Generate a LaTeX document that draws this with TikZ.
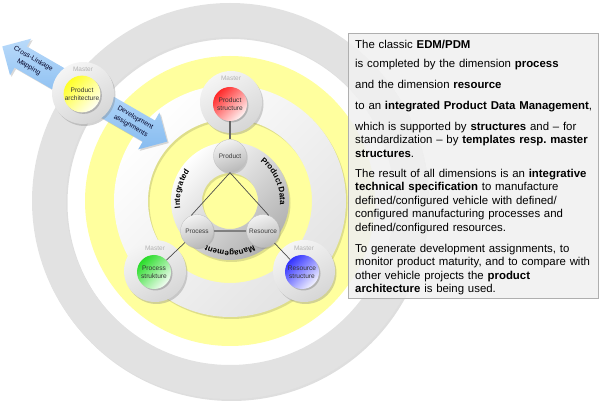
\documentclass[tikz,border=0pt]{standalone}
\usepackage{fontspec}
\setmainfont{Liberation Sans}
\usetikzlibrary{shadows,shapes.arrows,decorations.text,calc}
\definecolor{ringgray}{RGB}{226,226,226}
\definecolor{ringyellow}{RGB}{255,255,158}
\definecolor{arrowblue}{RGB}{135,188,240}
\definecolor{arrowlight}{RGB}{185,218,250}
\definecolor{boxfill}{RGB}{240,240,240}
\definecolor{boxline}{RGB}{175,175,175}
\definecolor{mastergray}{RGB}{178,178,178}
\definecolor{nodetext}{RGB}{60,60,60}
\definecolor{mred}{RGB}{255,40,40}
\definecolor{mgreen}{RGB}{40,220,40}
\definecolor{mblue}{RGB}{50,50,255}
\definecolor{myellow}{RGB}{255,255,40}
\newcommand\ringfont{\fontsize{8}{8}\selectfont\bfseries}
\tikzset{
  ringshadow/.style={fill=black, opacity=.13, even odd rule},
  ball/.style={circle, minimum size=33pt, inner sep=0pt, top color=gray!10, bottom color=gray!55, shading angle=20, draw=gray!50, line width=.3pt, font=\fontsize{6.5}{7}\selectfont, text=nodetext, drop shadow={opacity=.3, shadow xshift=1.2pt, shadow yshift=-1.5pt}},
  masterout/.style={circle, minimum size=62pt, inner sep=0pt, top color=gray!8, bottom color=gray!32, shading angle=30, drop shadow={opacity=.35, shadow xshift=1.5pt, shadow yshift=-2pt}},
  masterin/.style={circle, minimum size=34pt, inner sep=0pt, align=center, top color=#1, bottom color=#1!6!white, shading angle=45, font=\fontsize{6.6}{8.2}\selectfont, text=black!80, drop shadow={opacity=.45, shadow xshift=1.5pt, shadow yshift=-1.5pt}},
  masterlbl/.style={inner sep=0pt, font=\fontsize{6.5}{7}\selectfont, text=mastergray},
  blockarrow/.style={single arrow, single arrow head extend=9pt, single arrow tip angle=90, inner xsep=0pt, inner ysep=12pt, anchor=tail, top color=arrowlight, bottom color=arrowblue, drop shadow={opacity=.3, shadow xshift=1.5pt, shadow yshift=-1.5pt}},
  arrowtext/.style={inner sep=0pt, align=center, font=\fontsize{6.8}{9.3}\selectfont, text=black!85!blue},
  para/.style={anchor=base west, inner sep=0pt, text width=245pt, align=left, font=\fontsize{11.4}{13.4}\selectfont},
  ringtext/.style={decorate, decoration={text along path, text align=center, text={|\ringfont|#1}}},
  conn/.style={draw=black!60, line width=1.2pt},
  thinconn/.style={draw=black!70, line width=.7pt},
  thickconn/.style={draw=black!50, line width=2.2pt},
}
\begin{document}
\begin{tikzpicture}[x=1pt,y=1pt]
\useasboundingbox (0,0) rectangle (600,407);
\coordinate (C) at (230,206);
% rings
\fill[ringshadow] ($(C)+(1.5,-2)$) circle[radius=198] circle[radius=164];
\fill[ringgray, even odd rule] (C) circle[radius=198] circle[radius=164];
\fill[ringyellow] (C) circle[radius=145];
\fill[ringshadow] ($(C)+(1.5,-2)$) circle[radius=116] circle[radius=82];
\shade[even odd rule, top color=white, bottom color=gray!22, shading angle=45] (C) circle[radius=116] circle[radius=82];
\fill[ringshadow] ($(C)+(1.5,-2)$) circle[radius=59] circle[radius=28];
\shade[even odd rule, top color=white, bottom color=gray!62, shading angle=45] (C) circle[radius=59] circle[radius=28];
% ring text
\path[ringtext=Integrated] ($(C)+(210:50)$) arc[start angle=210, end angle=122, radius=50];
\path[ringtext=Product Data] ($(C)+(68:50)$) arc[start angle=68, end angle=-20, radius=50];
\path[ringtext=Management] ($(C)+(-46:50)$) arc[start angle=-46, end angle=-134, radius=50];
% core nodes
\node[ball] (product) at (230,251) {Product};
\node[ball] (process) at (197,176) {Process};
\node[ball] (resource) at (263,176) {Resource};
% arrows
\node[blockarrow, rotate=150, minimum height=93pt] (crossarrow) at (83,314) {};
\node[blockarrow, rotate=-30, minimum height=97pt] (devarrow) at (83,314) {};
\node[arrowtext, rotate=-30] (crosslbl) at (31,344) {Cross-Linkage\\Mapping};
\node[arrowtext, rotate=-30] (devlbl) at (133,285) {Development\\assignments};
% masters
\node[masterout] (paout) at (83,314) {};
\node[masterlbl] (palbl) at (83,338) {Master};
\node[masterin=myellow] (pa) at (82,313) {Product\\architecture};
\node[masterout] (psout) at (231,305) {};
\node[masterlbl] (pslbl) at (231,329) {Master};
\node[masterin=mred] (ps) at (230,303) {Product\\structure};
\node[masterout] (procsout) at (155,136) {};
\node[masterlbl] (procslbl) at (155,159) {Master};
\node[masterin=mgreen] (procs) at (154,135) {Process\\strukture};
\node[masterout] (ressout) at (304,136) {};
\node[masterlbl] (resslbl) at (304,159) {Master};
\node[masterin=mblue] (ress) at (302,135) {Resource\\structure};
% connectors
\draw[conn] (ps) -- (product);
\draw[thinconn] (product.south) -- (process.110);
\draw[thinconn] (product.south) -- (resource.70);
\draw[thickconn] (process) -- (resource);
\draw[thinconn] (process) -- (procs);
\draw[thinconn] (resource) -- (ress);
% text box
\node[draw=boxline, fill=boxfill, fill opacity=.88, line width=.6pt, minimum width=250pt, minimum height=265pt, anchor=north west, inner sep=0pt] (box) at (348,374) {};
\node[para] (p1) at (355,358.5) {The classic \textbf{EDM/PDM}};
\node[para] (p2) at (355,339) {is completed by the dimension \textbf{process}};
\node[para] (p3) at (355,318.5) {and the dimension \textbf{resource}};
\node[para] (p4) at (355,297.5) {to an \textbf{integrated Product Data Management},};
\node[para] (p5) at (355,276.5) {which is supported by \textbf{structures} and -- for\\standardization -- by \textbf{templates resp.\ master}\\\textbf{structures}.};
\node[para] (p6) at (355,229.5) {The result of all dimensions is an \textbf{integrative}\\\textbf{technical specification} to manufacture\\defined/configured vehicle with defined/\\configured manufacturing processes and\\defined/configured resources.};
\node[para] (p7) at (355,154.5) {To generate development assignments, to\\monitor product maturity, and to compare with\\other vehicle projects the \textbf{product}\\\textbf{architecture} is being used.};
\end{tikzpicture}
\end{document}
